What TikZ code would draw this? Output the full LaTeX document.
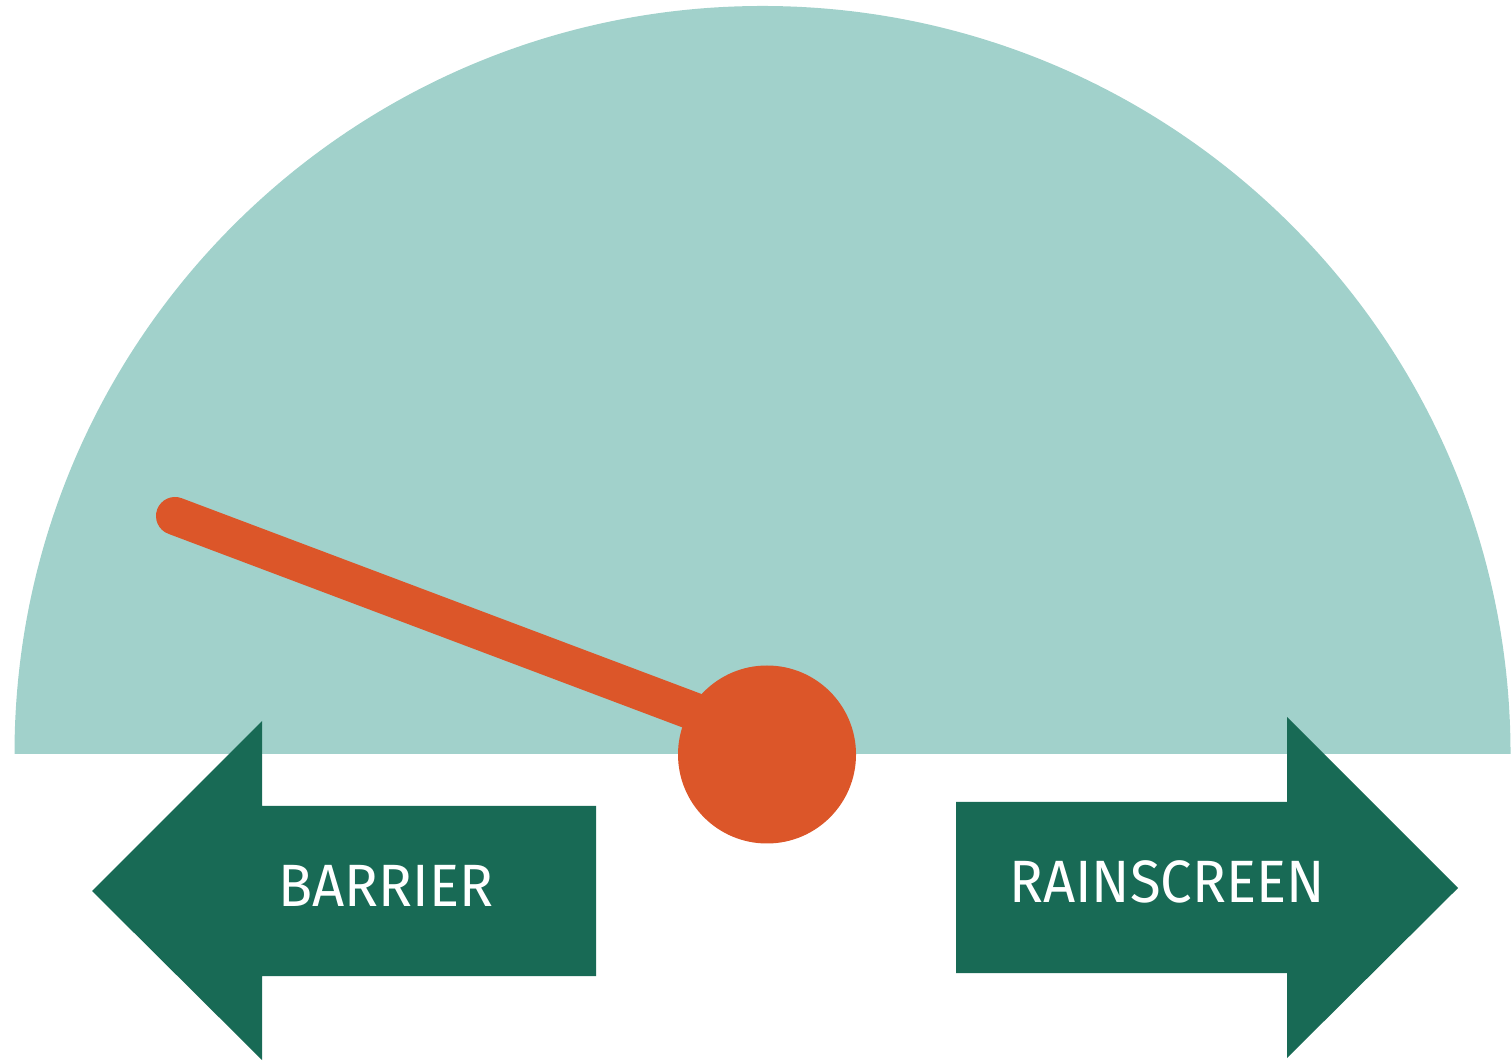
\documentclass[tikz,border=0pt]{standalone}
\usepackage{fontspec}
\setmainfont{Fira Sans}[FakeStretch=0.94]
\usepackage{tikz}

\definecolor{dialteal}{HTML}{A1D1CB}
\definecolor{needleorange}{HTML}{DC5629}
\definecolor{arrowgreen}{HTML}{186A55}

\tikzset{
	arrowlabel/.style={text=white, font=\fontsize{17}{20}\selectfont, inner sep=0pt}
}

\begin{document}
\begin{tikzpicture}[]
	%\draw[help lines, thick] (0,0) grid (15,10);
	\useasboundingbox (0,0) rectangle (15.11,10.60);
	% dial
	\fill[dialteal] (0.145,3.06) arc [start angle=180, end angle=0, radius=7.48] -- cycle;
	% needle
	\coordinate (tip) at (1.75,5.44);
	\coordinate (hub) at (7.67,3.21);
	\draw[needleorange, line width=0.38cm, line cap=round] (tip) -- (hub);
	\fill[needleorange] (7.67,3.055) circle [radius=0.89];
	% left arrow
	\fill[arrowgreen] (0.92,1.69) -- (2.62,3.39) -- (2.62,2.54) -- (5.96,2.54)
		-- (5.96,0.84) -- (2.62,0.84) -- (2.62,0) -- cycle;
	\node[arrowlabel] (barrier) at (3.86,1.74) {BARRIER};
	% right arrow
	\fill[arrowgreen] (14.58,1.72) -- (12.87,3.43) -- (12.87,2.58) -- (9.56,2.58)
		-- (9.56,0.87) -- (12.87,0.87) -- (12.87,0.02) -- cycle;
	\node[arrowlabel] (rainscreen) at (11.67,1.78) {RAINSCREEN};
\end{tikzpicture}
\end{document}
